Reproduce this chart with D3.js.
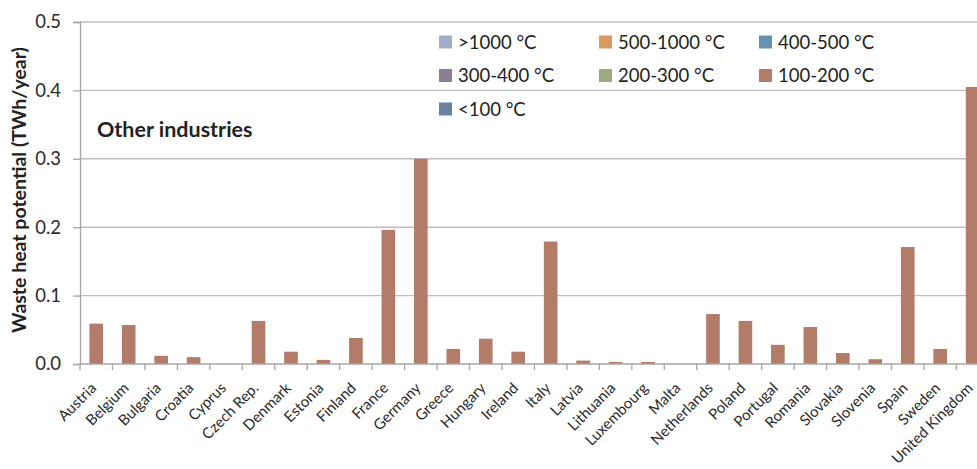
<!DOCTYPE html>
<html lang="en">

<head>
	<title>Waste heat potential - Other industries</title>
	<meta charset="utf-8">
	<script src="https://d3js.org/d3.v7.min.js"></script>
	<style>
		body { margin: 0; background: #fff; }
		svg { display: block; font-family: Lato, "Open Sans", sans-serif; }
	</style>
</head>

<body>
	<div id="container1"></div>
	<script>
		// Data
		const countries = ["Austria", "Belgium", "Bulgaria", "Croatia", "Cyprus", "Czech Rep.", "Denmark", "Estonia",
			"Finland", "France", "Germany", "Greece", "Hungary", "Ireland", "Italy", "Latvia", "Lithuania",
			"Luxembourg", "Malta", "Netherlands", "Poland", "Portugal", "Romania", "Slovakia", "Slovenia", "Spain",
			"Sweden", "United Kingdom"];
		const values100to200 = [0.059, 0.057, 0.012, 0.010, 0, 0.063, 0.018, 0.006,
			0.038, 0.196, 0.300, 0.022, 0.037, 0.018, 0.179, 0.005, 0.003,
			0.003, 0, 0.073, 0.063, 0.028, 0.054, 0.016, 0.007, 0.171,
			0.022, 0.405];
		const legendLabels = [">1000 °C", "500-1000 °C", "400-500 °C", "300-400 °C", "200-300 °C", "100-200 °C", "<100 °C"];
		const legendColors = ["#a3adc8", "#d99b62", "#6893b0", "#8b7e93", "#9daa82", "#b37c68", "#6a81a2"];
		const yTicks = [0, 0.1, 0.2, 0.3, 0.4, 0.5];

		// Chart dimensions
		const width = 977;
		const height = 469;
		const plotLeft = 80;
		const bandW = 32.46;

		const svg = d3.select("#container1")
			.append("svg")
			.attr("width", width)
			.attr("height", height);

		// Scales
		const xScale = d3.scaleBand()
			.domain(countries)
			.range([plotLeft, plotLeft + bandW * countries.length])
			.paddingInner(0.58)
			.paddingOuter(0.29);

		const yScale = d3.scaleLinear()
			.domain([0, 0.5])
			.range([364, 22]);

		// Gridlines
		svg.selectAll(".grid")
			.data(yTicks.filter(d => d > 0))
			.join("line")
			.attr("x1", plotLeft)
			.attr("x2", width)
			.attr("y1", d => yScale(d))
			.attr("y2", d => yScale(d))
			.attr("stroke", "#bdbdbd")
			.attr("stroke-width", 1.4);

		// Bars
		svg.selectAll(".bar")
			.data(countries.map((c, i) => ({ name: c, value: values100to200[i] })))
			.join("rect")
			.attr("x", d => xScale(d.name))
			.attr("y", d => yScale(d.value))
			.attr("width", xScale.bandwidth())
			.attr("height", d => yScale(0) - yScale(d.value))
			.attr("fill", legendColors[5]);

		// Y axis
		const yAxis = svg.append("g")
			.attr("transform", `translate(${plotLeft},0)`)
			.call(d3.axisLeft(yScale).tickValues(yTicks).tickFormat(d3.format(".1f")).tickSize(7).tickPadding(12));
		yAxis.select(".domain").attr("stroke", "#a6a6a6").attr("stroke-width", 1.3);
		yAxis.selectAll(".tick line").attr("stroke", "#a6a6a6").attr("stroke-width", 1.3);
		yAxis.selectAll(".tick text")
			.attr("fill", "#2b2b2b")
			.style("font-size", "18.5px")
			.style("font-family", "Lato, sans-serif");

		// X axis baseline and ticks between bands
		svg.append("line")
			.attr("x1", plotLeft)
			.attr("x2", width)
			.attr("y1", yScale(0))
			.attr("y2", yScale(0))
			.attr("stroke", "#a6a6a6")
			.attr("stroke-width", 1.3);

		svg.selectAll(".xtick")
			.data(d3.range(countries.length + 1))
			.join("line")
			.attr("x1", i => plotLeft + i * bandW)
			.attr("x2", i => plotLeft + i * bandW)
			.attr("y1", yScale(0))
			.attr("y2", yScale(0) + 6)
			.attr("stroke", "#a6a6a6")
			.attr("stroke-width", 1.3);

		svg.selectAll(".xlabel")
			.data(countries)
			.join("text")
			.attr("transform", d => `translate(${xScale(d) + xScale.bandwidth() / 2 + 1},${yScale(0) + 25}) rotate(-45)`)
			.attr("text-anchor", "end")
			.attr("fill", "#2b2b2b")
			.style("font-size", "15px")
			.text(d => d);

		// Axis title
		svg.append("text")
			.attr("transform", `translate(26,190) rotate(-90)`)
			.attr("text-anchor", "middle")
			.attr("fill", "#222")
			.style("font-size", "19.5px")
			.style("font-weight", "700")
			.text("Waste heat potential (TWh/year)");

		// Panel label
		svg.append("text")
			.attr("x", 97)
			.attr("y", 137)
			.attr("fill", "#222")
			.style("font-size", "21.5px")
			.style("font-weight", "700")
			.text("Other industries");

		// Legend
		const legend = svg.selectAll(".legend")
			.data(legendLabels)
			.join("g")
			.attr("transform", (d, i) => `translate(${439 + (i % 3) * 160},${42 + Math.floor(i / 3) * 33.5})`);

		legend.append("rect")
			.attr("x", 0)
			.attr("y", -6.5)
			.attr("width", 13)
			.attr("height", 13)
			.attr("fill", (d, i) => legendColors[i]);

		legend.append("text")
			.attr("x", 19)
			.attr("y", 6.5)
			.attr("fill", "#222")
			.style("font-size", "18.5px")
			.text(d => d);
	</script>
</body>

</html>
